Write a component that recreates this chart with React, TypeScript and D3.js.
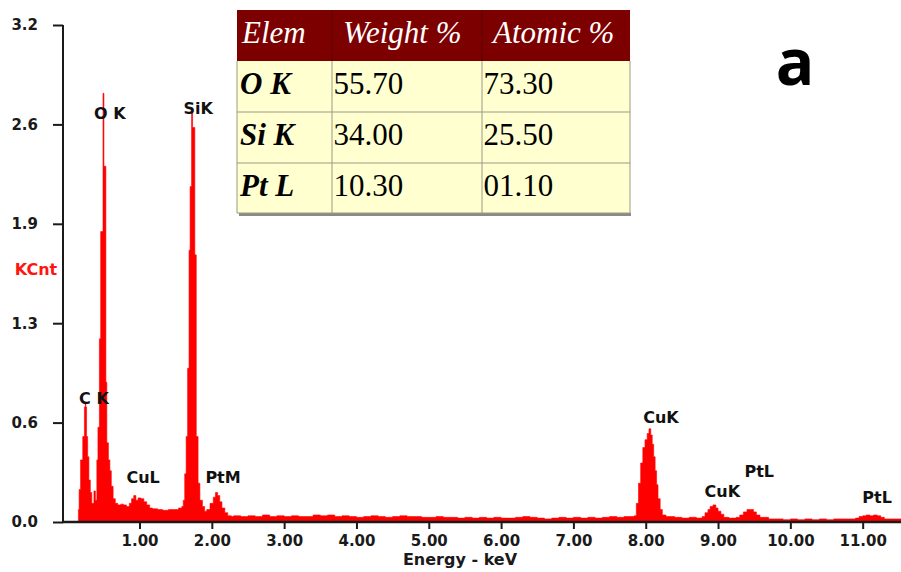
import { useEffect, useRef } from "react";
import * as d3 from "d3";

// EDS spectrum (step-after histogram: keV -> KCnt)
const energy = [
  0.1, 0.155, 0.165, 0.185, 0.215, 0.238, 0.25, 0.258, 0.268, 0.283, 0.3, 0.32, 0.34, 0.35, 0.37, 0.39,
  0.41, 0.425, 0.445, 0.463, 0.495, 0.508, 0.535, 0.548, 0.57, 0.59, 0.61, 0.635, 0.665, 0.7, 0.74,
  0.78, 0.82, 0.86, 0.89, 0.92, 0.95, 0.98, 1.02, 1.06, 1.1, 1.14, 1.18, 1.25, 1.32, 1.4, 1.48, 1.54,
  1.585, 1.605, 1.625, 1.645, 1.665, 1.685, 1.7, 1.72, 1.734, 1.765, 1.785, 1.81, 1.835, 1.87, 1.9,
  1.93, 1.975, 2.02, 2.05, 2.08, 2.11, 2.14, 2.18, 2.22, 2.27,
  2.3, 2.4, 2.5, 2.6, 2.7, 2.8, 2.9, 3.0, 3.1, 3.2, 3.3, 3.4, 3.5, 3.6, 3.7, 3.8, 3.9, 4.0, 4.1, 4.2,
  4.3, 4.4, 4.5, 4.6, 4.7, 4.8, 4.9, 5.0, 5.1, 5.2, 5.3, 5.4, 5.5, 5.6, 5.7, 5.8, 5.9, 6.0, 6.1, 6.2,
  6.3, 6.4, 6.5, 6.6, 6.7, 6.8, 6.9, 7.0, 7.1, 7.2, 7.3, 7.4, 7.5, 7.6, 7.7, 7.8,
  7.84, 7.87, 7.9, 7.93, 7.96, 7.99, 8.02, 8.045, 8.07, 8.09, 8.11, 8.13, 8.15, 8.17, 8.2, 8.23, 8.28,
  8.4, 8.5, 8.6, 8.7, 8.78, 8.82, 8.86, 8.89, 8.93, 8.97, 9.0, 9.04, 9.08, 9.15, 9.25, 9.3, 9.35, 9.4,
  9.45, 9.49, 9.53, 9.58, 9.7, 9.8, 9.9, 10.0, 10.1, 10.2, 10.3, 10.4, 10.5, 10.6, 10.7, 10.8, 10.9,
  10.95, 11.0, 11.05, 11.1, 11.15, 11.2, 11.25, 11.3, 11.4, 11.53,
];
const kcnt = [
  0, 0.08, 0.21, 0.4, 0.55, 0.74, 0.77, 0.74, 0.55, 0.42, 0.27, 0.19, 0.12, 0.12, 0.2, 0.14,
  0.4, 0.61, 1.18, 1.87, 2.76, 2.29, 0.9, 0.51, 0.4, 0.33, 0.23, 0.15, 0.12, 0.11, 0.115,
  0.11, 0.1, 0.12, 0.15, 0.17, 0.14, 0.155, 0.15, 0.13, 0.11, 0.09, 0.085, 0.08, 0.075, 0.08, 0.08, 0.09,
  0.1, 0.14, 0.31, 0.55, 0.99, 1.75, 2.16, 2.64, 2.54, 1.72, 0.55, 0.25, 0.14, 0.1, 0.07,
  0.08, 0.12, 0.16, 0.19, 0.17, 0.13, 0.09, 0.06, 0.04, 0.035,
  0.04, 0.035, 0.04, 0.035, 0.045, 0.035, 0.04, 0.035, 0.04, 0.035, 0.035, 0.045, 0.04, 0.045, 0.035, 0.04, 0.035, 0.03, 0.035, 0.04,
  0.035, 0.03, 0.035, 0.04, 0.035, 0.035, 0.03, 0.03, 0.035, 0.03, 0.03, 0.025, 0.03, 0.025, 0.03, 0.025, 0.03, 0.025, 0.025, 0.03,
  0.035, 0.03, 0.025, 0.02, 0.025, 0.03, 0.025, 0.03, 0.025, 0.03, 0.025, 0.03, 0.035, 0.03, 0.035, 0.035,
  0.04, 0.12, 0.25, 0.38, 0.48, 0.53, 0.57, 0.6, 0.56, 0.5, 0.42, 0.33, 0.24, 0.15, 0.08, 0.045, 0.035,
  0.03, 0.025, 0.03, 0.025, 0.035, 0.06, 0.08, 0.1, 0.11, 0.09, 0.07, 0.05, 0.03, 0.025, 0.03, 0.045, 0.065, 0.08,
  0.08, 0.065, 0.045, 0.03, 0.02, 0.02, 0.015, 0.02, 0.015, 0.02, 0.015, 0.02, 0.015, 0.02, 0.02, 0.02, 0.025,
  0.035, 0.04, 0.045, 0.04, 0.045, 0.04, 0.03, 0.02, 0.02, 0.02,
];

const yTicks = [0, 0.64, 1.28, 1.92, 2.56, 3.2];
const xTicks = [1, 2, 3, 4, 5, 6, 7, 8, 9, 10, 11];

// peak labels, placed in data units (keV, KCnt of the text baseline)
const peakNames = ["O K", "SiK", "C K", "CuL", "PtM", "CuK", "CuK", "PtL", "PtL"];
const peakEnergy = [0.59, 1.81, 0.37, 1.05, 2.155, 8.21, 9.06, 9.57, 11.2];
const peakLevel = [2.595, 2.63, 0.76, 0.25, 0.25, 0.64, 0.16, 0.29, 0.12];

const tableHead = ["Elem", "Weight %", "Atomic %"];
const tableElem = ["O K", "Si K", "Pt L"];
const weightPct = ["55.70", "34.00", "10.30"];
const atomicPct = ["73.30", "25.50", "01.10"];

export default function App() {
  const svgRef = useRef<SVGSVGElement>(null);

  useEffect(() => {
    if (!svgRef.current) return;
    const svg = d3.select(svgRef.current);
    svg.selectAll("*").remove();

    const x = d3.scaleLinear().domain([-0.058, 11.53]).range([63, 901]);
    const y = d3.scaleLinear().domain([0, 3.2]).range([522, 25]);

    const pts = energy.map((e, i) => [e, kcnt[i]] as [number, number]);
    const area = d3
      .area<[number, number]>()
      .x((d) => x(d[0]))
      .y0(y(0))
      .y1((d) => y(d[1]))
      .curve(d3.curveStepAfter);

    svg
      .append("path")
      .datum(pts)
      .attr("fill", "#ff0000")
      .attr("stroke", "#ff0000")
      .attr("stroke-width", 0.6)
      .attr("d", area);

    const axisFont = (sel: d3.Selection<SVGGElement, unknown, null, undefined>) => {
      sel.select(".domain").remove();
      sel.selectAll("line").attr("stroke", "#1a1a1a").attr("stroke-width", 2);
      sel
        .selectAll("text")
        .attr("font-family", "DejaVu Sans, Verdana, sans-serif")
        .attr("font-weight", "bold")
        .attr("font-size", 15)
        .attr("fill", "#1a1a1a");
    };

    // Y axis
    const ya = svg
      .append("g")
      .attr("transform", "translate(63,0)")
      .call(
        d3
          .axisLeft(y)
          .tickValues(yTicks)
          .tickFormat(d3.format(".1f"))
          .tickSize(10)
          .tickPadding(15)
      );
    axisFont(ya);

    // X axis
    const xa = svg
      .append("g")
      .attr("transform", "translate(0,522)")
      .call(
        d3
          .axisBottom(x)
          .tickValues(xTicks)
          .tickFormat(d3.format(".2f"))
          .tickSize(7)
          .tickPadding(6)
      );
    axisFont(xa);

    svg
      .append("line")
      .attr("x1", 63)
      .attr("x2", 63)
      .attr("y1", y(3.2))
      .attr("y2", y(0))
      .attr("stroke", "#1a1a1a")
      .attr("stroke-width", 2);
    svg
      .append("line")
      .attr("x1", 62)
      .attr("x2", 901)
      .attr("y1", y(0))
      .attr("y2", y(0))
      .attr("stroke", "#1a1a1a")
      .attr("stroke-width", 2.5);

    // axis titles
    svg
      .append("text")
      .attr("x", 36)
      .attr("y", 275)
      .attr("text-anchor", "middle")
      .attr("font-family", "DejaVu Sans, Verdana, sans-serif")
      .attr("font-weight", "bold")
      .attr("font-size", 16)
      .attr("fill", "#ff1414")
      .text("KCnt");
    svg
      .append("text")
      .attr("x", 460)
      .attr("y", 565)
      .attr("text-anchor", "middle")
      .attr("font-family", "DejaVu Sans, Verdana, sans-serif")
      .attr("font-weight", "bold")
      .attr("font-size", 16)
      .attr("fill", "#1a1a1a")
      .text("Energy - keV");

    // peak labels
    svg
      .append("g")
      .selectAll("text")
      .data(peakNames)
      .enter()
      .append("text")
      .attr("x", (_, i) => x(peakEnergy[i]))
      .attr("y", (_, i) => y(peakLevel[i]))
      .attr("text-anchor", "middle")
      .attr("font-family", "DejaVu Sans, Verdana, sans-serif")
      .attr("font-weight", "bold")
      .attr("font-size", 16)
      .attr("fill", "#111")
      .text((d) => d);

    // composition table
    const colX = [237, 332, 482, 630];
    const rowY = [10, 61, 112, 163, 213];
    const tb = svg.append("g");
    tb.append("rect")
      .attr("x", 239)
      .attr("y", 213)
      .attr("width", 392)
      .attr("height", 3)
      .attr("fill", "#8a8a8a");
    tb.append("rect")
      .attr("x", colX[0])
      .attr("y", rowY[0])
      .attr("width", colX[3] - colX[0])
      .attr("height", rowY[1] - rowY[0])
      .attr("fill", "#7d0000");
    tb.append("rect")
      .attr("x", colX[0])
      .attr("y", rowY[1])
      .attr("width", colX[3] - colX[0])
      .attr("height", rowY[4] - rowY[1])
      .attr("fill", "#ffffcf");
    [rowY[2], rowY[3], rowY[4]].forEach((ry) =>
      tb
        .append("line")
        .attr("x1", colX[0])
        .attr("x2", colX[3])
        .attr("y1", ry)
        .attr("y2", ry)
        .attr("stroke", "#9a9a88")
        .attr("stroke-width", 1)
    );
    [colX[0], colX[1], colX[2], colX[3]].forEach((cx) =>
      tb
        .append("line")
        .attr("x1", cx)
        .attr("x2", cx)
        .attr("y1", rowY[1])
        .attr("y2", rowY[4])
        .attr("stroke", "#9a9a88")
        .attr("stroke-width", 1)
    );
    [colX[1], colX[2]].forEach((cx) =>
      tb
        .append("line")
        .attr("x1", cx)
        .attr("x2", cx)
        .attr("y1", rowY[0])
        .attr("y2", rowY[1])
        .attr("stroke", "#5a0000")
        .attr("stroke-width", 1)
    );

    const serif = "Liberation Serif, Times New Roman, serif";
    const headOffset = [5, 11, 11];
    tableHead.forEach((h, i) =>
      tb
        .append("text")
        .attr("x", colX[i] + headOffset[i])
        .attr("y", 43)
        .attr("font-family", serif)
        .attr("font-style", "italic")
        .attr("font-size", 31)
        .attr("fill", "#ffffff")
        .text(h)
    );
    tableElem.forEach((el, r) => {
      const by = 94 + r * 51;
      tb.append("text")
        .attr("x", colX[0] + 3)
        .attr("y", by)
        .attr("font-family", serif)
        .attr("font-style", "italic")
        .attr("font-weight", "bold")
        .attr("font-size", 31)
        .attr("fill", "#000")
        .text(el);
      tb.append("text")
        .attr("x", colX[1] + 1.5)
        .attr("y", by)
        .attr("font-family", serif)
        .attr("font-size", 31)
        .attr("fill", "#000")
        .text(weightPct[r]);
      tb.append("text")
        .attr("x", colX[2] + 1.5)
        .attr("y", by)
        .attr("font-family", serif)
        .attr("font-size", 31)
        .attr("fill", "#000")
        .text(atomicPct[r]);
    });

    // panel letter
    svg
      .append("text")
      .attr("x", 795)
      .attr("y", 85)
      .attr("text-anchor", "middle")
      .attr("font-family", "Open Sans, Liberation Sans, sans-serif")
      .attr("font-weight", "bold")
      .attr("font-size", 64)
      .attr("fill", "#000")
      .text("a");
  }, []);

  return (
    <svg
      ref={svgRef}
      width={901}
      height={572}
      style={{ position: "absolute", left: 0, top: 0, background: "#fff" }}
    />
  );
}
